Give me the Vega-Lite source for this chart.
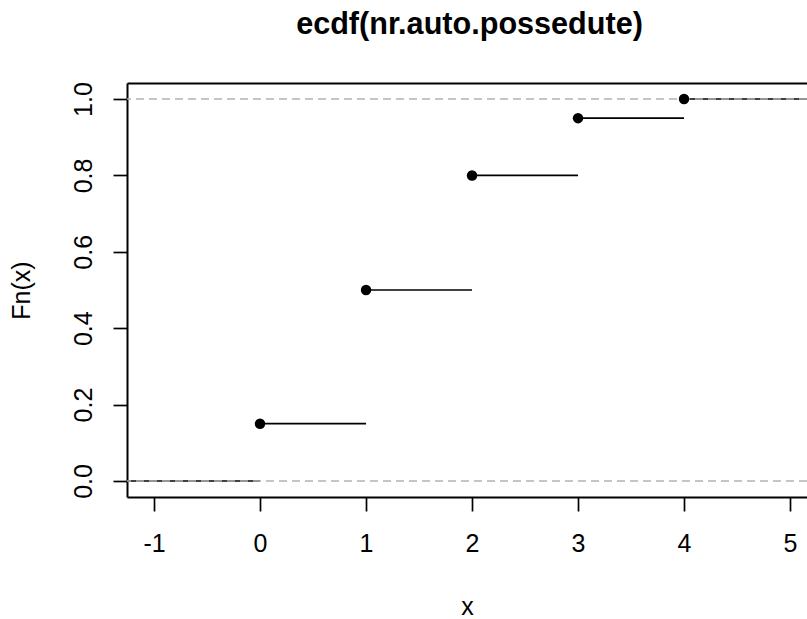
{
  "$schema": "https://vega.github.io/schema/vega-lite/v6.json",
  "autosize": "none",
  "width": 680,
  "height": 414,
  "padding": {"left": 127, "top": 83, "right": 0, "bottom": 122},
  "background": "white",
  "config": {
    "view": {"stroke": null},
    "font": "Liberation Sans",
    "axis": {
      "grid": false,
      "labelFont": "Liberation Sans",
      "labelFontSize": 25,
      "labelColor": "#000000",
      "titleFont": "Liberation Sans",
      "titleFontSize": 25,
      "titleFontWeight": "normal",
      "titleColor": "#000000",
      "domainColor": "#000000",
      "domainWidth": 2,
      "tickColor": "#000000",
      "tickWidth": 1.7,
      "tickSize": 14
    }
  },
  "title": {
    "text": "ecdf(nr.auto.possedute)",
    "font": "Liberation Sans",
    "fontSize": 30.6,
    "fontWeight": "bold",
    "color": "#000000",
    "anchor": "middle",
    "offset": 41,
    "dx": 2.5
  },
  "datasets": {
    "steps": [
      {"x": 0, "xend": 1, "y": 0.15},
      {"x": 1, "xend": 2, "y": 0.5},
      {"x": 2, "xend": 3, "y": 0.8},
      {"x": 3, "xend": 4, "y": 0.95}
    ],
    "ext": [
      {"x": -1.255, "xend": 0, "y": 0},
      {"x": 4, "xend": 5.16, "y": 1}
    ],
    "pts": [
      {"x": 0, "y": 0.15},
      {"x": 1, "y": 0.5},
      {"x": 2, "y": 0.8},
      {"x": 3, "y": 0.95},
      {"x": 4, "y": 1}
    ],
    "hl": [{"y": 0}, {"y": 1}]
  },
  "resolve": {"axis": {"x": "independent"}},
  "layer": [
    {
      "data": {"name": "steps"},
      "mark": {"type": "rule", "color": "#000000", "strokeWidth": 1.6},
      "encoding": {
        "x": {
          "field": "x", "type": "quantitative",
          "scale": {"domain": [-1.255, 5.16], "nice": false, "zero": false},
          "axis": {"values": [-1, 0, 1, 2, 3, 4, 5], "labelExpr": "datum.value < 0 ? '-' + abs(datum.value) : '' + datum.value", "title": "x", "labelPadding": 20, "titlePadding": 38}
        },
        "x2": {"field": "xend"},
        "y": {
          "field": "y", "type": "quantitative",
          "scale": {"domain": [-0.042, 1.042], "nice": false, "zero": false},
          "axis": {"values": [0, 0.2, 0.4, 0.6, 0.8, 1.0], "format": ".1f", "labelAngle": 270, "labelPadding": 17, "title": "Fn(x)", "titlePadding": 37}
        }
      }
    },
    {
      "data": {"name": "ext"},
      "mark": {"type": "rule", "color": "#000000", "strokeWidth": 1.6},
      "encoding": {
        "x": {"field": "x", "type": "quantitative", "axis": null},
        "x2": {"field": "xend"},
        "y": {"field": "y", "type": "quantitative"}
      }
    },
    {
      "data": {"name": "hl"},
      "mark": {"type": "rule", "color": "#B3B3B3", "strokeWidth": 1.6, "strokeDash": [8, 5]},
      "encoding": {
        "y": {"field": "y", "type": "quantitative"}
      }
    },
    {
      "data": {"name": "pts"},
      "mark": {"type": "point", "shape": "circle", "filled": true, "color": "#000000", "opacity": 1, "size": 110},
      "encoding": {
        "x": {"field": "x", "type": "quantitative", "axis": {"orient": "top", "labels": false, "ticks": false, "title": null, "domainWidth": 2}},
        "y": {"field": "y", "type": "quantitative"}
      }
    }
  ]
}
